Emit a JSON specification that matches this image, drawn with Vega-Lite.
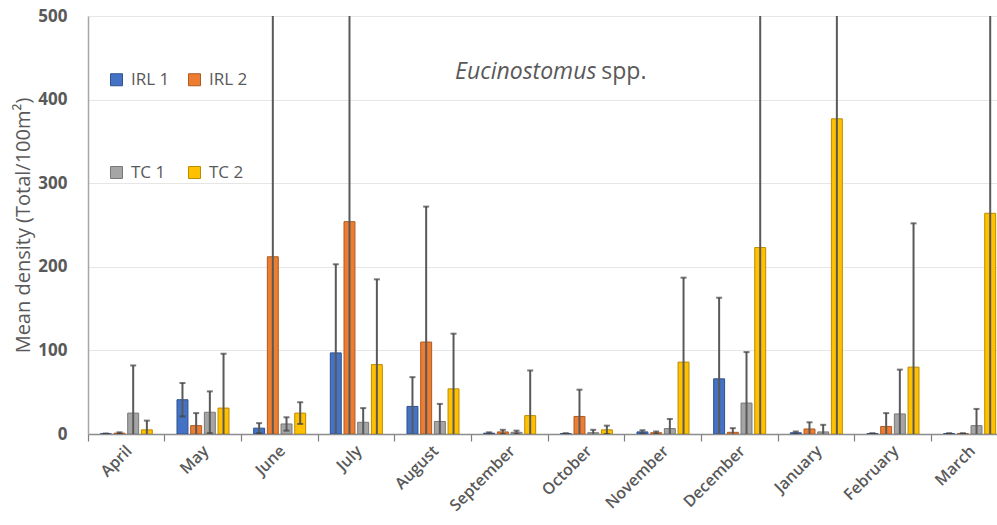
{
  "$schema": "https://vega.github.io/schema/vega-lite/v6.json",
  "width": 920,
  "height": 418,
  "autosize": "none",
  "padding": {"left": 88, "top": 16, "right": 0, "bottom": 91},
  "background": "white",
  "config": {
    "view": {"stroke": null},
    "font": "Open Sans"
  },
  "data": {"values": [
    {"month": "April", "site": "IRL 1", "mean": 0.3, "lo": 0, "hi": 0.6},
    {"month": "April", "site": "IRL 2", "mean": 1, "lo": 0, "hi": 2},
    {"month": "April", "site": "TC 1", "mean": 25, "lo": -32, "hi": 82},
    {"month": "April", "site": "TC 2", "mean": 5, "lo": -6, "hi": 16},
    {"month": "May", "site": "IRL 1", "mean": 41, "lo": 21, "hi": 61},
    {"month": "May", "site": "IRL 2", "mean": 10, "lo": -5, "hi": 25},
    {"month": "May", "site": "TC 1", "mean": 26, "lo": 1, "hi": 51},
    {"month": "May", "site": "TC 2", "mean": 31, "lo": -34, "hi": 96},
    {"month": "June", "site": "IRL 1", "mean": 7, "lo": 1, "hi": 13},
    {"month": "June", "site": "IRL 2", "mean": 212, "lo": -276, "hi": 700},
    {"month": "June", "site": "TC 1", "mean": 12, "lo": 4, "hi": 20},
    {"month": "June", "site": "TC 2", "mean": 25, "lo": 12, "hi": 38},
    {"month": "July", "site": "IRL 1", "mean": 97, "lo": -9, "hi": 203},
    {"month": "July", "site": "IRL 2", "mean": 254, "lo": -192, "hi": 700},
    {"month": "July", "site": "TC 1", "mean": 14, "lo": -3, "hi": 31},
    {"month": "July", "site": "TC 2", "mean": 83, "lo": -19, "hi": 185},
    {"month": "August", "site": "IRL 1", "mean": 33, "lo": -2, "hi": 68},
    {"month": "August", "site": "IRL 2", "mean": 110, "lo": -52, "hi": 272},
    {"month": "August", "site": "TC 1", "mean": 15, "lo": -6, "hi": 36},
    {"month": "August", "site": "TC 2", "mean": 54, "lo": -12, "hi": 120},
    {"month": "September", "site": "IRL 1", "mean": 1, "lo": 0, "hi": 2},
    {"month": "September", "site": "IRL 2", "mean": 2.5, "lo": 0, "hi": 5},
    {"month": "September", "site": "TC 1", "mean": 2, "lo": 0, "hi": 4},
    {"month": "September", "site": "TC 2", "mean": 22, "lo": -32, "hi": 76},
    {"month": "October", "site": "IRL 1", "mean": 0.5, "lo": 0, "hi": 1},
    {"month": "October", "site": "IRL 2", "mean": 21, "lo": -11, "hi": 53},
    {"month": "October", "site": "TC 1", "mean": 1.5, "lo": -2, "hi": 5},
    {"month": "October", "site": "TC 2", "mean": 5, "lo": 0, "hi": 10},
    {"month": "November", "site": "IRL 1", "mean": 2.5, "lo": 0.5, "hi": 4.5},
    {"month": "November", "site": "IRL 2", "mean": 1.5, "lo": 0, "hi": 3},
    {"month": "November", "site": "TC 1", "mean": 6.5, "lo": -5, "hi": 18},
    {"month": "November", "site": "TC 2", "mean": 86, "lo": -15, "hi": 187},
    {"month": "December", "site": "IRL 1", "mean": 66, "lo": -31, "hi": 163},
    {"month": "December", "site": "IRL 2", "mean": 2, "lo": -3, "hi": 7},
    {"month": "December", "site": "TC 1", "mean": 37, "lo": -24, "hi": 98},
    {"month": "December", "site": "TC 2", "mean": 223, "lo": -254, "hi": 700},
    {"month": "January", "site": "IRL 1", "mean": 1.5, "lo": 0, "hi": 3},
    {"month": "January", "site": "IRL 2", "mean": 6, "lo": -2, "hi": 14},
    {"month": "January", "site": "TC 1", "mean": 2.5, "lo": -6, "hi": 11},
    {"month": "January", "site": "TC 2", "mean": 377, "lo": -46, "hi": 800},
    {"month": "February", "site": "IRL 1", "mean": 0.5, "lo": 0, "hi": 1},
    {"month": "February", "site": "IRL 2", "mean": 9, "lo": -7, "hi": 25},
    {"month": "February", "site": "TC 1", "mean": 24, "lo": -29, "hi": 77},
    {"month": "February", "site": "TC 2", "mean": 80, "lo": -92, "hi": 252},
    {"month": "March", "site": "IRL 1", "mean": 0.5, "lo": 0, "hi": 1},
    {"month": "March", "site": "IRL 2", "mean": 0.5, "lo": 0, "hi": 1},
    {"month": "March", "site": "TC 1", "mean": 10, "lo": -10, "hi": 30},
    {"month": "March", "site": "TC 2", "mean": 264, "lo": -172, "hi": 700}
  ]},
  "encoding": {
    "x": {
      "field": "month",
      "type": "nominal",
      "scale": {
        "domain": ["April", "May", "June", "July", "August", "September", "October", "November", "December", "January", "February", "March"],
        "paddingInner": 0,
        "paddingOuter": 0
      },
      "axis": {
        "title": null,
        "bandPosition": 0,
        "labelOffset": 3,
        "labelAngle": -45,
        "labelAlign": "right",
        "labelBaseline": "middle",
        "labelFontSize": 16,
        "labelFontWeight": 600,
        "labelColor": "#595959",
        "labelPadding": 7,
        "tickSize": 7,
        "tickColor": "#7f7f7f",
        "tickWidth": 1.2,
        "domainColor": "#8c8c8c",
        "domainWidth": 1.5,
        "grid": false
      }
    },
    "xOffset": {
      "field": "site",
      "type": "nominal",
      "scale": {"domain": ["IRL 1", "IRL 2", "TC 1", "TC 2"], "paddingInner": 0.2, "paddingOuter": 0.9}
    }
  },
  "layer": [
    {
      "mark": {"type": "bar", "strokeWidth": 1, "clip": true},
      "encoding": {
        "y": {
          "field": "mean",
          "type": "quantitative",
          "scale": {"domain": [0, 500], "nice": false},
          "axis": {
            "title": "Mean density (Total/100m²)",
            "titleFontSize": 20,
            "titleFontWeight": "normal",
            "titleColor": "#595959",
            "titlePadding": 4,
            "values": [0, 100, 200, 300, 400, 500],
            "labelFontSize": 17,
            "labelFontWeight": "bold",
            "labelColor": "#595959",
            "labelPadding": 21,
            "ticks": false,
            "domainColor": "#a6a6a6",
            "domainWidth": 1.5,
            "gridColor": "#e6e6e6",
            "gridWidth": 1
          }
        },
        "color": {
          "field": "site",
          "type": "nominal",
          "scale": {"domain": ["IRL 1", "IRL 2", "TC 1", "TC 2"], "range": ["#4472C4", "#ED7D31", "#A5A5A5", "#FFC000"]},
          "legend": {
            "title": null,
            "orient": "none",
            "legendX": 20,
            "legendY": 55,
            "direction": "horizontal",
            "columns": 2,
            "columnPadding": 16,
            "rowPadding": 75,
            "symbolType": "square",
            "symbolSize": 144,
            "symbolStrokeWidth": 1,
            "symbolOpacity": 1,
            "labelFontSize": 17,
            "labelColor": "#595959",
            "labelOffset": 6
          }
        },
        "stroke": {
          "field": "site",
          "type": "nominal",
          "scale": {"domain": ["IRL 1", "IRL 2", "TC 1", "TC 2"], "range": ["#2F528F", "#AE5A21", "#787878", "#BC8C00"]},
          "legend": {
            "title": null,
            "orient": "none",
            "legendX": 20,
            "legendY": 55,
            "direction": "horizontal",
            "columns": 2,
            "columnPadding": 16,
            "rowPadding": 75,
            "symbolType": "square",
            "symbolSize": 144,
            "symbolStrokeWidth": 1,
            "labelFontSize": 17,
            "labelColor": "#595959",
            "labelOffset": 6
          }
        }
      }
    },
    {
      "mark": {"type": "rule", "color": "#595959", "strokeWidth": 2, "clip": true},
      "encoding": {
        "y": {"field": "lo", "type": "quantitative"},
        "y2": {"field": "hi"}
      }
    },
    {
      "mark": {"type": "tick", "color": "#404040", "size": 6, "thickness": 2, "clip": true},
      "encoding": {
        "y": {"field": "hi", "type": "quantitative"}
      }
    },
    {
      "mark": {"type": "tick", "color": "#404040", "size": 6, "thickness": 2, "clip": true},
      "encoding": {
        "y": {"field": "lo", "type": "quantitative"}
      }
    },
    {
      "data": {"values": [{"label": "Eucinostomus"}]},
      "mark": {"type": "text", "align": "right", "baseline": "middle", "fontStyle": "italic", "fontSize": 23, "color": "#595959", "dx": 10},
      "encoding": {
        "x": {"datum": "October"},
        "xOffset": null,
        "y": {"datum": 433},
        "text": {"field": "label"}
      }
    },
    {
      "data": {"values": [{"label": "spp."}]},
      "mark": {"type": "text", "align": "left", "baseline": "middle", "fontSize": 23, "color": "#595959", "dx": 15},
      "encoding": {
        "x": {"datum": "October"},
        "xOffset": null,
        "y": {"datum": 433},
        "text": {"field": "label"}
      }
    }
  ]
}
